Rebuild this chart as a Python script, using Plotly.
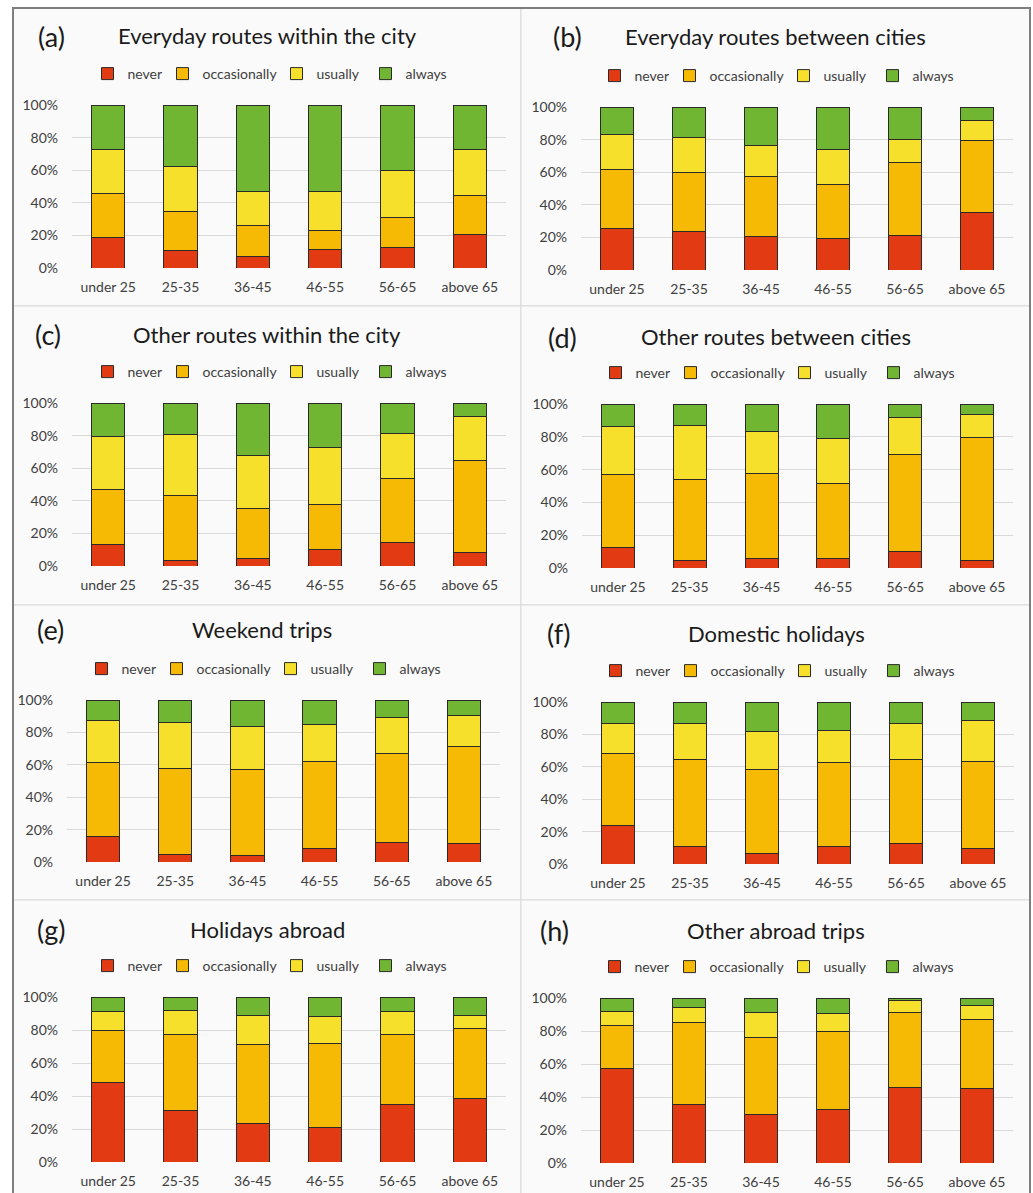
import plotly.graph_objects as go

W, H = 1033, 1193

categories = ["under 25", "25-35", "36-45", "46-55", "56-65", "above 65"]
levels = ["never", "occasionally", "usually", "always"]
level_colors = ["#E23B14", "#F6B904", "#F6E02C", "#71B633"]
# legend entry widths (px) keep the four entries compact
level_entry_widths = [30, 69, 44, 42]

panel_letters = ["(a)", "(b)", "(c)", "(d)", "(e)", "(f)", "(g)", "(h)"]
panel_titles = [
    "Everyday routes within the city",
    "Everyday routes between cities",
    "Other routes within the city",
    "Other routes between cities",
    "Weekend trips",
    "Domestic holidays",
    "Holidays abroad",
    "Other abroad trips",
]

# share of respondents (%) per age group: never / occasionally / usually / always
a_never = [19, 11, 7, 11.5, 12.5, 20.5]
a_occasionally = [27, 23.5, 19, 11.5, 18.5, 24]
a_usually = [27, 27.5, 21, 24, 29, 28.5]
a_always = [27, 38, 53, 53, 40, 27]

b_never = [25.5, 23.5, 20.5, 19.5, 21, 35]
b_occasionally = [36, 36.5, 37, 33, 45, 44.5]
b_usually = [21.5, 21.5, 19, 21.5, 14, 12.5]
b_always = [17, 18.5, 23.5, 26, 20, 8]

c_never = [13, 3.5, 4.5, 10, 14.5, 8]
c_occasionally = [34, 39.5, 31, 28, 39, 57]
c_usually = [32.5, 37.5, 32.5, 34.5, 28, 27]
c_always = [20.5, 19.5, 32, 27.5, 18.5, 8]

d_never = [12.5, 4.5, 5.5, 5.5, 10, 4.5]
d_occasionally = [44.5, 49.5, 52, 46, 59.5, 75]
d_usually = [29.5, 33, 25.5, 27.5, 22.5, 14]
d_always = [13.5, 13, 17, 21, 8, 6.5]

e_never = [16, 4.5, 4, 8.5, 12, 11.5]
e_occasionally = [45.5, 53, 53, 53.5, 55, 60]
e_usually = [26, 28.5, 26.5, 23, 22, 19]
e_always = [12.5, 14, 16.5, 15, 11, 9.5]

f_never = [23.5, 10.5, 6.5, 10.5, 12.5, 9.5]
f_occasionally = [45, 54, 52, 52, 52, 54]
f_usually = [18, 22.5, 23, 20, 22.5, 25]
f_always = [13.5, 13, 18.5, 17.5, 13, 11.5]

g_never = [48, 31.5, 23.5, 21, 35, 38.5]
g_occasionally = [31.5, 46, 47.5, 51, 42.5, 42.5]
g_usually = [12, 14.5, 17.5, 16, 13.5, 8]
g_always = [8.5, 8, 11.5, 12, 9, 11]

h_never = [57.5, 35.5, 29.5, 32.5, 46, 45]
h_occasionally = [26, 49.5, 46.5, 47, 45, 42]
h_usually = [8.5, 9, 15, 11, 7.5, 8.5]
h_always = [8, 6, 9, 9.5, 1.5, 4.5]

panel_data = [
    [a_never, a_occasionally, a_usually, a_always],
    [b_never, b_occasionally, b_usually, b_always],
    [c_never, c_occasionally, c_usually, c_always],
    [d_never, d_occasionally, d_usually, d_always],
    [e_never, e_occasionally, e_usually, e_always],
    [f_never, f_occasionally, f_usually, f_always],
    [g_never, g_occasionally, g_usually, g_always],
    [h_never, h_occasionally, h_usually, h_always],
]

# page layout in pixels
plot_boxes = [  # x0, x1, y_top, y_bottom
    (72, 506, 105, 268), (581, 1013, 107, 270),
    (72, 506, 403, 566), (582, 1013, 404, 568),
    (67, 500, 700, 862), (582, 1014, 702, 864),
    (72, 506, 997, 1162), (581, 1013, 998, 1163),
]
letter_pos = [(51, 37), (567, 37), (48, 335), (562, 337),
              (50, 630), (559, 633), (51, 929), (554, 930)]
title_pos = [(267, 36), (775, 37), (267, 334), (776, 336),
             (262, 630), (776, 633), (267, 929), (776, 930)]
legend_pos = [(270, 74), (777, 76), (270, 372), (778, 373),
              (264, 669), (778, 671), (270, 966), (777, 967)]


def px(x):
    return x / W


def py(y):
    return 1 - y / H


FONT = "Lato, 'Open Sans', sans-serif"

fig = go.Figure()
layout = dict(
    width=W, height=H,
    margin=dict(l=0, r=0, t=0, b=0, autoexpand=False),
    paper_bgcolor="white",
    plot_bgcolor="rgba(0,0,0,0)",
    barmode="stack",
    bargap=0.54,
    font=dict(family=FONT, color="#404040"),
    shapes=[], annotations=[],
)

for i in range(8):
    n = i + 1
    xa = "x" if n == 1 else f"x{n}"
    ya = "y" if n == 1 else f"y{n}"
    lg = "legend" if n == 1 else f"legend{n}"
    for lvl, col, lw, vals in zip(levels, level_colors, level_entry_widths, panel_data[i]):
        fig.add_trace(go.Bar(
            x=categories, y=vals, name=lvl,
            marker=dict(color=col, line=dict(color="#2a2a2a", width=1)),
            xaxis=xa, yaxis=ya, legend=lg, showlegend=True, legendwidth=lw,
        ))
    x0, x1, yt, yb = plot_boxes[i]
    layout["xaxis" if n == 1 else f"xaxis{n}"] = dict(
        domain=[px(x0), px(x1)], anchor=ya, automargin=False,
        showgrid=False, showline=False, zeroline=False, ticks="",
        tickfont=dict(size=14, color="#404040", family=FONT),
        ticklabelstandoff=9, fixedrange=True,
    )
    layout["yaxis" if n == 1 else f"yaxis{n}"] = dict(
        domain=[py(yb), py(yt)], anchor=xa, range=[0, 100], automargin=False,
        dtick=20, ticksuffix="%", showgrid=True, gridcolor="#d9d9d9",
        gridwidth=1, showline=False, zeroline=False, ticks="",
        tickfont=dict(size=14, color="#404040", family=FONT),
        ticklabelstandoff=13, fixedrange=True,
    )
    lx, ly = legend_pos[i]
    layout[lg] = dict(
        orientation="h", x=px(lx), y=py(ly), xanchor="center", yanchor="middle",
        bgcolor="rgba(0,0,0,0)", font=dict(size=14, color="#404040", family=FONT),
        itemwidth=30, tracegroupgap=0, traceorder="normal",
        itemclick=False, itemdoubleclick=False,
    )
    lx, ly = letter_pos[i]
    layout["annotations"].append(dict(
        text=panel_letters[i], x=px(lx), y=py(ly), xref="paper", yref="paper",
        showarrow=False, xanchor="center", yanchor="middle",
        font=dict(size=27, color="#1a1a1a", family=FONT),
    ))
    tx, ty = title_pos[i]
    layout["annotations"].append(dict(
        text=panel_titles[i], x=px(tx), y=py(ty), xref="paper", yref="paper",
        showarrow=False, xanchor="center", yanchor="middle",
        font=dict(size=22, color="#1a1a1a", family=FONT),
    ))

# panel backgrounds and separators
col_edges = [13, 521, 1030]
row_edges = [8, 306, 605, 900, 1200]
for r in range(4):
    for c in range(2):
        layout["shapes"].append(dict(
            type="rect", xref="paper", yref="paper", layer="below",
            x0=px(col_edges[c]), x1=px(col_edges[c + 1]),
            y0=py(row_edges[r + 1]), y1=py(row_edges[r]),
            fillcolor="#fafafa", line=dict(color="#d9d9d9", width=1),
        ))
# outer frame
layout["shapes"].append(dict(
    type="path", xref="paper", yref="paper", layer="above",
    path=f"M {px(13)},{py(1200)} L {px(13)},{py(8)} L {px(1030)},{py(8)} L {px(1030)},{py(1200)}",
    line=dict(color="#7f7f7f", width=2),
))

fig.update_layout(**layout)
fig.write_html("out.html")
